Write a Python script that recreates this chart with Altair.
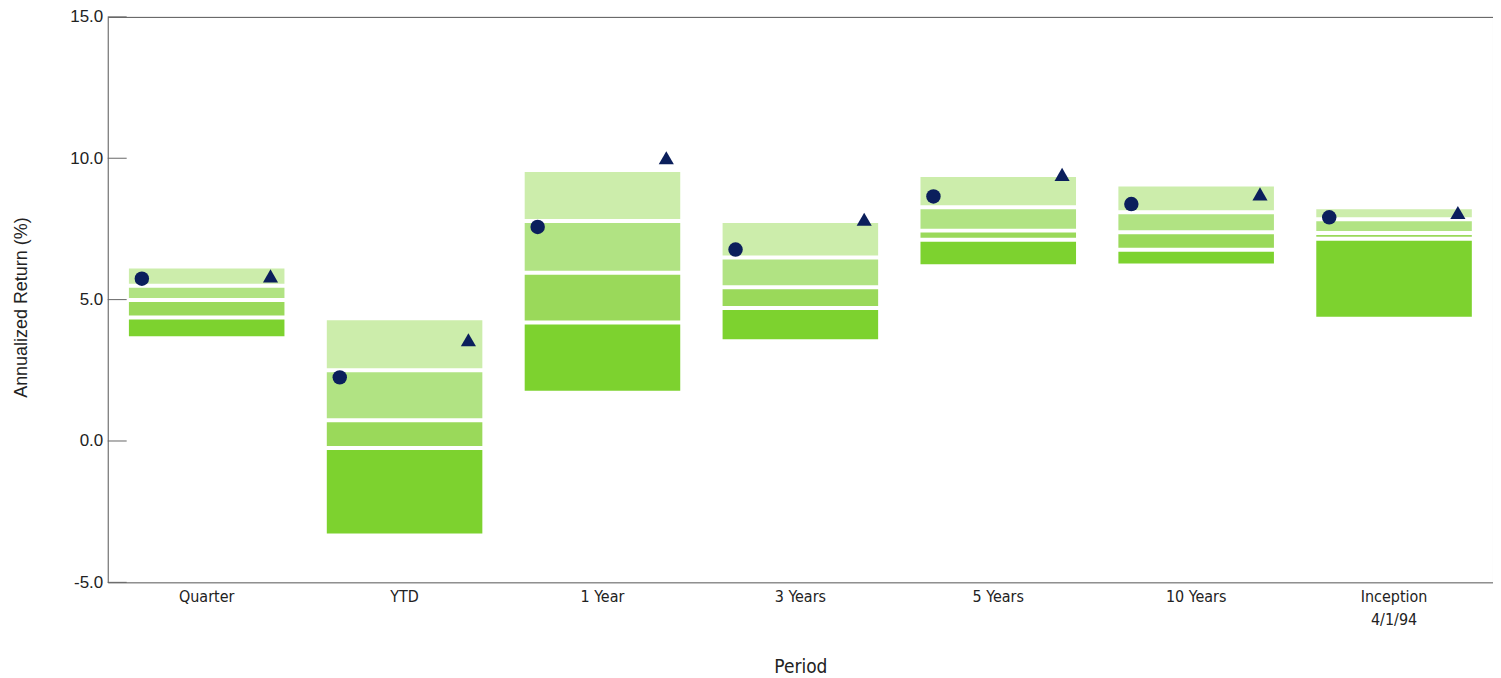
import altair as alt
import pandas as pd

periods = ["Quarter", "YTD", "1 Year", "3 Years", "5 Years", "10 Years", "Inception|4/1/94"]
top_edge = [6.10, 4.27, 9.51, 7.71, 9.34, 9.00, 8.20]
cut1 = [5.49, 2.50, 7.78, 6.49, 8.27, 8.09, 7.84]
cut2 = [4.99, 0.73, 5.95, 5.44, 7.44, 7.38, 7.36]
cut3 = [4.37, -0.25, 4.19, 4.70, 7.12, 6.76, 7.15]
bottom_edge = [3.70, -3.27, 1.78, 3.60, 6.25, 6.28, 4.39]
fund = [5.74, 2.25, 7.57, 6.77, 8.65, 8.38, 7.91]
benchmark = [5.84, 3.58, 10.02, 7.84, 9.43, 8.74, 8.08]
y_ticks = [-5, 0, 5, 10, 15]

seg_names = ["5th to 25th", "25th to Median", "Median to 75th", "75th to 95th"]
seg_colors = ["#CCEDAB", "#B1E383", "#9AD95A", "#7DD22F"]

NARROW = "'Liberation Sans Narrow', 'Arial Narrow', 'DejaVu Sans Condensed', 'Liberation Sans', sans-serif"
REG = "'Liberation Sans', Arial, sans-serif"

rows = []
for i, p in enumerate(periods):
    edges = [top_edge[i], cut1[i], cut2[i], cut3[i], bottom_edge[i]]
    for k in range(4):
        rows.append({"Period": p, "seg": seg_names[k], "hi": edges[k], "lo": edges[k + 1]})
seg_df = pd.DataFrame(rows)

cut_df = pd.DataFrame(
    [{"Period": p, "v": v} for i, p in enumerate(periods) for v in (cut1[i], cut2[i], cut3[i])]
)
pts_df = pd.DataFrame({"Period": periods, "fund": fund, "bench": benchmark})
tick_df = pd.DataFrame({"v": y_ticks})

xscale = alt.Scale(domain=periods, paddingInner=0.214, paddingOuter=0.107)
yscale = alt.Scale(domain=[-5, 15], nice=False, zero=False)

x_enc = alt.X(
    "Period:N",
    scale=xscale,
    sort=periods,
    title="Period",
    axis=alt.Axis(
        labelAngle=0,
        labelExpr="split(datum.value, '|')",
        labelFont=NARROW,
        labelFontSize=16,
        labelColor="#222222",
        labelPadding=6,
        labelLineHeight=23,
        ticks=False,
        domain=False,
        titleFont=NARROW,
        titleFontSize=19,
        titleFontWeight="normal",
        titleColor="#222222",
        titleY=84,
        titleBaseline="middle",
    ),
)

bars = alt.Chart(seg_df).mark_bar().encode(
    x=x_enc,
    y=alt.Y(
        "lo:Q",
        scale=yscale,
        title="Annualized Return (%)",
        axis=alt.Axis(
            values=y_ticks,
            labelExpr="replace(format(datum.value, '.1f'), '\u2212', '-')",
            ticks=False,
            domain=False,
            grid=False,
            labelFont=REG,
            labelFontSize=17,
            labelColor="#222222",
            labelPadding=5,
            titleFont=REG,
            titleFontSize=18,
            titleFontWeight="normal",
            titleColor="#222222",
            titleX=-86,
            titleY=291,
            titleAngle=-90,
            titleBaseline="middle",
        ),
    ),
    y2="hi:Q",
    color=alt.Color("seg:N", scale=alt.Scale(domain=seg_names, range=seg_colors), legend=None),
)

gaps = alt.Chart(cut_df).mark_tick(color="white", thickness=4, size=160, opacity=1).encode(
    x=alt.X("Period:N", scale=xscale, sort=periods),
    y=alt.Y("v:Q", scale=yscale),
)

circles = alt.Chart(pts_df).mark_point(
    shape="circle", filled=True, size=210, color="#0B1F5C", opacity=1, xOffset=-65
).encode(
    x=alt.X("Period:N", scale=xscale, sort=periods),
    y=alt.Y("fund:Q", scale=yscale),
)

triangles = alt.Chart(pts_df).mark_point(
    shape="triangle-up", filled=True, size=230, color="#0B1F5C", opacity=1, xOffset=64
).encode(
    x=alt.X("Period:N", scale=xscale, sort=periods),
    y=alt.Y("bench:Q", scale=yscale),
)

yticks = alt.Chart(tick_df).mark_rule(color="#666666", strokeWidth=1).encode(
    y=alt.Y("v:Q", scale=yscale),
    x=alt.value(0),
    x2=alt.value(19),
)

chart = (
    alt.layer(bars, gaps, circles, triangles, yticks)
    .properties(
        width=1389,
        height=567,
        background="white",
        autosize=alt.AutoSizeParams(type="none"),
        padding={"left": 100, "top": 8, "right": 0, "bottom": 95},
    )
    .configure_view(stroke="#555555", strokeWidth=1)
)

chart.save("out.html", embed_options={"renderer": "svg", "actions": False})
